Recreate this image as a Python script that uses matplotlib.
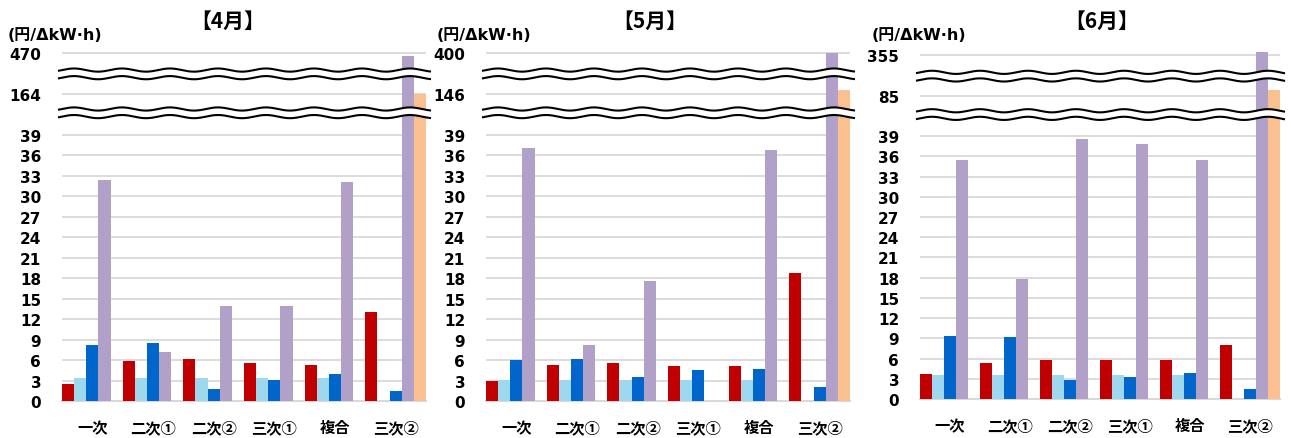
import numpy as np
import matplotlib
matplotlib.use('Agg')
import matplotlib.pyplot as plt

plt.rcParams['font.family'] = ['DejaVu Sans', 'Noto Sans CJK JP']

categories = ['一次', '二次①', '二次②', '三次①', '複合', '三次②']
months = ['【4月】', '【5月】', '【6月】']

# 5 series per month, one value per category
apr_s1 = [2.5, 5.9, 6.2, 5.5, 5.3, 13.1]
apr_s2 = [3.3, 3.3, 3.3, 3.3, 3.3, 0]
apr_s3 = [8.2, 8.5, 1.8, 3.1, 3.9, 1.4]
apr_s4 = [32.4, 7.2, 13.9, 13.9, 32.1, 448]
apr_s5 = [0, 0, 0, 0, 0, 162]

may_s1 = [2.9, 5.3, 5.6, 5.1, 5.1, 18.7]
may_s2 = [3.1, 3.1, 3.1, 3.1, 3.1, 0]
may_s3 = [6.0, 6.2, 3.5, 4.5, 4.75, 2.0]
may_s4 = [37.0, 8.2, 17.6, 0, 36.8, 400]
may_s5 = [0, 0, 0, 0, 0, 166]

jun_s1 = [3.7, 5.3, 5.75, 5.8, 5.8, 8.05]
jun_s2 = [3.6, 3.6, 3.6, 3.6, 3.6, 0]
jun_s3 = [9.3, 9.2, 2.85, 3.2, 3.8, 1.5]
jun_s4 = [35.5, 17.8, 38.5, 37.8, 35.4, 377]
jun_s5 = [0, 0, 0, 0, 0, 125]

# upper ticks shown above the axis breaks
apr_breaks = [164, 470]
may_breaks = [146, 400]
jun_breaks = [85, 355]

colors = ['#C00000', '#9DD8EE', '#0066CC', '#B1A0C7', '#FAC090']

W, H = 1291, 439
fig = plt.figure(figsize=(W / 100, H / 100), dpi=100)

# axes boxes in pixels: left, right, bottom(y from top), top(y from top)
boxes = [(62, 426, 402, 49.6), (486, 850, 402, 49.6), (920, 1280, 400, 52.2)]
title_x = [228, 650, 1102]
unit_x = [8, 437, 872]
TOP = 51.6


def make_scale(mid, top):
    xs = np.array([0, 39, mid, top], float)
    ts = np.array([0, 39, 45, 51], float)
    slope = 6.0 / (top - mid)

    def fwd(v):
        v = np.asarray(v, float)
        return np.where(v > top, 51 + (v - top) * slope, np.interp(v, xs, ts))

    def inv(t):
        t = np.asarray(t, float)
        return np.where(t > 51, top + (t - 51) / slope, np.interp(t, ts, xs))

    return fwd, inv


def draw_break(ax, yc, w_px, h_px, x0, x1):
    xs = np.linspace(x0, x1, 600)
    wave = 1.6 * np.sin(xs * w_px / 48 * 2 * np.pi)
    upper = yc + (3.8 + wave) / h_px
    lower = yc + (-3.8 + wave) / h_px
    ax.fill_between(xs, lower, upper, color='white', transform=ax.transAxes,
                    clip_on=False, zorder=5, linewidth=0)
    for y in (upper, lower):
        ax.plot(xs, y, color='black', lw=1.5, transform=ax.transAxes,
                clip_on=False, zorder=6)


data = [
    ([apr_s1, apr_s2, apr_s3, apr_s4, apr_s5], apr_breaks),
    ([may_s1, may_s2, may_s3, may_s4, may_s5], may_breaks),
    ([jun_s1, jun_s2, jun_s3, jun_s4, jun_s5], jun_breaks),
]

x = np.arange(len(categories))
width = 0.2

for i, ((series, (mid, top)), (l, r, b, t)) in enumerate(zip(data, boxes)):
    ax = fig.add_axes([l / W, 1 - b / H, (r - l) / W, (b - t) / H])
    fwd, inv = make_scale(mid, top)
    ax.set_yscale('function', functions=(fwd, inv))

    for k, vals in enumerate(series):
        ax.bar(x + (k - 2) * width, vals, width, color=colors[k], zorder=2)

    ax.set_xlim(-0.5, len(categories) - 0.5)
    ax.set_ylim(0, float(inv(TOP)))

    yt = list(range(0, 40, 3)) + [mid, top]
    ax.set_yticks(yt)
    ax.set_yticklabels([str(v) for v in yt], fontsize=11, fontweight='bold',
                       family='DejaVu Sans')
    ax.yaxis.set_minor_locator(matplotlib.ticker.NullLocator())
    ax.set_xticks(x)
    ax.set_xticklabels(categories, fontsize=11, fontweight='bold',
                       family=['Noto Sans CJK JP', 'DejaVu Sans'])
    ax.tick_params(axis='y', length=0, pad=15)
    ax.tick_params(axis='x', length=0, pad=13)

    ax.set_axisbelow(True)
    ax.yaxis.grid(True, color='#D9D9D9', lw=1.3)
    ax.axhline(0, color='#D9D9D9', lw=1.5, clip_on=False, zorder=1)
    for s in ax.spines.values():
        s.set_visible(False)

    w_px, h_px = r - l, b - t
    for yc in (47.9, 42.2):
        draw_break(ax, yc / TOP, w_px, h_px, -3 / w_px, 1 + 4 / w_px)

    fig.text(title_x[i] / W, 1 - 21 / H, months[i], ha='center', va='center',
             fontsize=15, fontweight='bold',
             family=['Noto Sans CJK JP', 'DejaVu Sans'])
    fig.text(unit_x[i] / W, 1 - 36 / H, '(円/ΔkW·h)', ha='left', va='center',
             fontsize=11.5, fontweight='bold')

fig.savefig('out.png', dpi=100, facecolor='white')
